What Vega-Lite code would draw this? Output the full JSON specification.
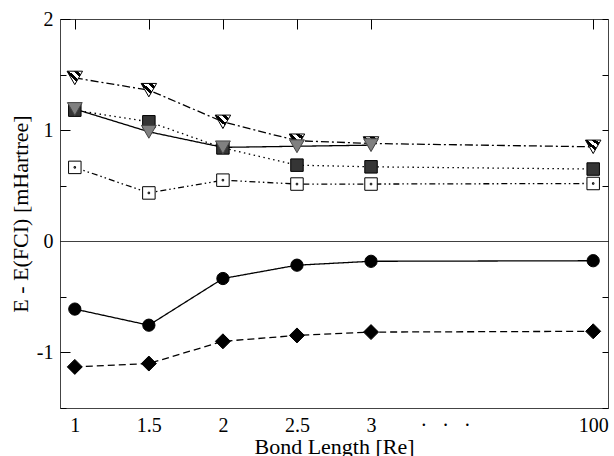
{
  "$schema": "https://vega.github.io/schema/vega-lite/v6.json",
  "width": 548,
  "height": 389,
  "autosize": "none",
  "padding": {"left": 60, "top": 19, "right": 6, "bottom": 48},
  "background": "white",
  "config": {
    "view": {"stroke": "#444", "strokeWidth": 1},
    "axis": {"labelFont": "Liberation Serif", "titleFont": "Liberation Serif", "labelColor": "black", "titleColor": "black", "titleFontWeight": "normal", "labelFontSize": 20, "titleFontSize": 22, "domain": false, "ticks": false}
  },
  "data": {"values": [
    {"method": "ACPF", "bond": 1, "E": -0.61},
    {"method": "ACPF", "bond": 1.5, "E": -0.755},
    {"method": "ACPF", "bond": 2, "E": -0.335},
    {"method": "ACPF", "bond": 2.5, "E": -0.215},
    {"method": "ACPF", "bond": 3, "E": -0.18},
    {"method": "ACPF", "bond": 100, "E": -0.175},
    {"method": "AQCC", "bond": 1, "E": 0.665},
    {"method": "AQCC", "bond": 1.5, "E": 0.435},
    {"method": "AQCC", "bond": 2, "E": 0.55},
    {"method": "AQCC", "bond": 2.5, "E": 0.515},
    {"method": "AQCC", "bond": 3, "E": 0.515},
    {"method": "AQCC", "bond": 100, "E": 0.52},
    {"method": "MRD", "bond": 1, "E": -1.13},
    {"method": "MRD", "bond": 1.5, "E": -1.1},
    {"method": "MRD", "bond": 2, "E": -0.9},
    {"method": "MRD", "bond": 2.5, "E": -0.847},
    {"method": "MRD", "bond": 3, "E": -0.817},
    {"method": "MRD", "bond": 100, "E": -0.81},
    {"method": "MRACEPA", "bond": 1, "E": 1.18},
    {"method": "MRACEPA", "bond": 1.5, "E": 1.075},
    {"method": "MRACEPA", "bond": 2, "E": 0.84},
    {"method": "MRACEPA", "bond": 2.5, "E": 0.685},
    {"method": "MRACEPA", "bond": 3, "E": 0.67},
    {"method": "MRACEPA", "bond": 100, "E": 0.65},
    {"method": "MRCEPA1", "bond": 1, "E": 1.47},
    {"method": "MRCEPA1", "bond": 1.5, "E": 1.36},
    {"method": "MRCEPA1", "bond": 2, "E": 1.075},
    {"method": "MRCEPA1", "bond": 2.5, "E": 0.905},
    {"method": "MRCEPA1", "bond": 3, "E": 0.88},
    {"method": "MRCEPA1", "bond": 100, "E": 0.85},
    {"method": "MRCCSD", "bond": 1, "E": 1.19},
    {"method": "MRCCSD", "bond": 1.5, "E": 0.985},
    {"method": "MRCCSD", "bond": 2, "E": 0.845},
    {"method": "MRCCSD", "bond": 2.5, "E": 0.855},
    {"method": "MRCCSD", "bond": 3, "E": 0.865}
  ]},
  "encoding": {
    "x": {"field": "bond", "type": "ordinal",
      "scale": {"type": "point", "domain": [1, 1.5, 2, 2.5, 3, 4, 50, 100], "padding": 0.2},
      "axis": {"orient": "bottom", "values": [1, 1.5, 2, 2.5, 3, 4, 100], "labelAngle": 0, "ticks": false,
        "labelExpr": "datum.value == 4 ? '\u2003\u2002·\u2002 ·\u2002 ·' : datum.label",
        "grid": true, "gridWidth": 1, "gridOpacity": 1, "gridDash": [10, 1000],
        "gridColor": {"condition": {"test": "datum.value == 4", "value": "transparent"}, "value": "black"},
        "labelPadding": 7, "title": "Bond Length [Re]", "titlePadding": 1}},
    "y": {"field": "E", "type": "quantitative",
      "scale": {"domain": [-1.5, 2], "nice": false, "zero": false},
      "axis": {"orient": "left", "values": [-1.5, -1, -0.5, 0, 0.5, 1, 1.5, 2], "ticks": false,
        "labelExpr": "datum.value % 1 == 0 ? (datum.value < 0 ? '-' + abs(datum.value) : '' + datum.value) : ''",
        "grid": true, "gridColor": "black", "gridWidth": 1, "gridOpacity": 1,
        "gridDash": {"condition": [
            {"test": "datum.value == 0", "value": [1, 0]},
            {"test": "datum.value % 1 == 0", "value": [10, 532, 6, 1000]}],
          "value": [6, 536, 6, 1000]},
        "labelPadding": 7, "title": "E - E(FCI) [mHartree]", "titlePadding": 4}}
  },
  "layer": [
    {"mark": {"type": "line", "color": "black", "strokeWidth": 1.3},
     "encoding": {"strokeDash": {"field": "method", "type": "nominal",
       "scale": {"domain": ["ACPF", "AQCC", "MRD", "MRACEPA", "MRCEPA1", "MRCCSD"],
                 "range": [[1, 0], [6, 3, 1.5, 3, 1.5, 3], [7, 4], [1.5, 3.5], [8, 3, 2, 3], [1, 0]]},
       "legend": null}}},
    {"transform": [{"filter": "datum.method == 'ACPF'"}],
     "mark": {"type": "point", "shape": "circle", "size": 150, "filled": true, "fill": "black", "stroke": "black", "strokeWidth": 1, "opacity": 1}},
    {"transform": [{"filter": "datum.method == 'AQCC'"}],
     "mark": {"type": "point", "shape": "M-1,-1H1V1H-1Z M-0.12,-0.12H0.12V0.12H-0.12Z", "size": 156, "filled": true, "fill": "white", "stroke": "black", "strokeWidth": 1, "opacity": 1}},
    {"transform": [{"filter": "datum.method == 'MRD'"}],
     "mark": {"type": "point", "shape": "diamond", "size": 225, "filled": true, "fill": "black", "stroke": "black", "strokeWidth": 1, "opacity": 1}},
    {"transform": [{"filter": "datum.method == 'MRACEPA'"}],
     "mark": {"type": "point", "shape": "square", "size": 156, "filled": true, "fill": "#353535", "stroke": "black", "strokeWidth": 1, "opacity": 1}},
    {"transform": [{"filter": "datum.method == 'MRCEPA1'"}],
     "mark": {"type": "point", "shape": "triangle-down", "size": 240, "filled": true, "stroke": "black", "strokeWidth": 1, "opacity": 1,
       "fill": {"gradient": "linear", "x1": 0, "y1": 1, "x2": 1, "y2": 0, "stops": [
         {"offset": 0, "color": "white"}, {"offset": 0.14, "color": "white"},
         {"offset": 0.14, "color": "black"}, {"offset": 0.28, "color": "black"},
         {"offset": 0.28, "color": "white"}, {"offset": 0.42, "color": "white"},
         {"offset": 0.42, "color": "black"}, {"offset": 0.56, "color": "black"},
         {"offset": 0.56, "color": "white"}, {"offset": 0.7, "color": "white"},
         {"offset": 0.7, "color": "black"}, {"offset": 0.84, "color": "black"},
         {"offset": 0.84, "color": "white"}, {"offset": 1, "color": "white"}]}}},
    {"transform": [{"filter": "datum.method == 'MRCCSD'"}],
     "mark": {"type": "point", "shape": "triangle-down", "size": 220, "filled": true, "fill": "#808080", "stroke": "#444", "strokeWidth": 1, "opacity": 1}},
    {
      "transform": [{"filter": "datum.bond > 1000"}],
      "mark": {"type": "point", "filled": true},
      "encoding": {
        "shape": {"field": "method", "type": "nominal",
          "scale": {"domain": ["ACPF", "AQCC", "MRD", "MRACEPA", "MRCEPA1", "MRCCSD"],
            "range": ["circle", "square", "diamond", "square", "triangle-down", "triangle-down"]},
          "legend": {"title": null, "orient": "none", "legendX": 370, "legendY": -4,
            "fillColor": "white", "strokeColor": "black", "labelFont": "Liberation Serif", "labelFontSize": 16, "symbolSize": 144}},
        "fill": {"field": "method", "type": "nominal",
          "scale": {"domain": ["ACPF", "AQCC", "MRD", "MRACEPA", "MRCEPA1", "MRCCSD"],
            "range": ["black", "white", "black", "#353535", "#9a9a9a", "#808080"]},
          "legend": {"title": null, "orient": "none", "legendX": 370, "legendY": -4,
            "fillColor": "white", "strokeColor": "black", "labelFont": "Liberation Serif", "labelFontSize": 16, "symbolSize": 144}}
      }
    }
  ]
}
